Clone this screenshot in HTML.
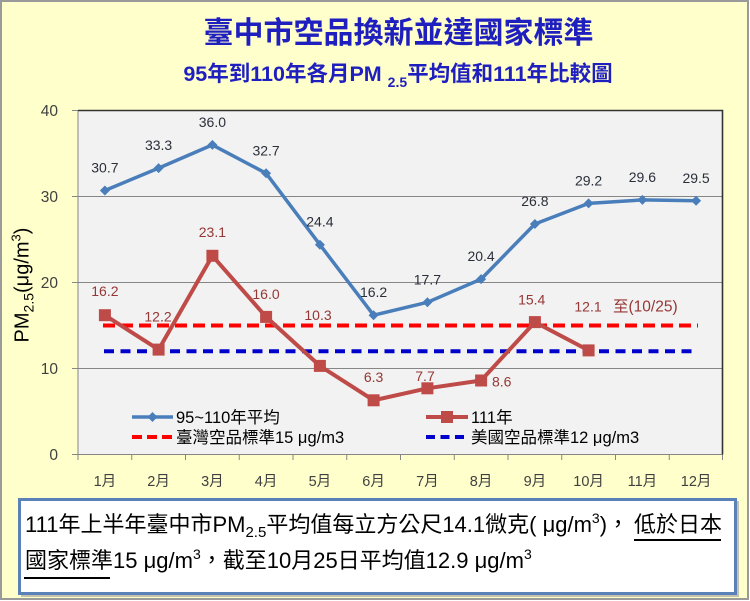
<!DOCTYPE html>
<html><head><meta charset="utf-8"><style>
html,body{margin:0;padding:0;background:#fff;}
svg{display:block;}
text{font-family:"Liberation Sans","Noto Sans CJK TC",sans-serif;}
</style></head><body>
<svg width="750" height="601" viewBox="0 0 750 601" xmlns="http://www.w3.org/2000/svg">
<rect x="1" y="1" width="747" height="598" fill="#ffffcc" stroke="#9a9a9a" stroke-width="2"/>
<text x="398.5" y="43" text-anchor="middle" font-size="30" font-weight="bold" fill="#1f1fc0">臺中市空品換新並達國家標準</text>
<text x="398" y="81" text-anchor="middle" font-size="21.5" font-weight="bold" fill="#1f1fc0">95年到110年各月PM <tspan font-size="14" dy="6">2.5</tspan><tspan dy="-6">平均值和111年比較圖</tspan></text>

<rect x="78" y="110.5" width="644.5" height="344" fill="#f2f2f2"/>
<g stroke="#868686" stroke-width="1">
<line x1="78" y1="196.5" x2="722.5" y2="196.5"/>
<line x1="78" y1="282.5" x2="722.5" y2="282.5"/>
<line x1="78" y1="368.5" x2="722.5" y2="368.5"/>
<line x1="72" y1="110.5" x2="78" y2="110.5"/>
<line x1="72" y1="196.5" x2="78" y2="196.5"/>
<line x1="72" y1="282.5" x2="78" y2="282.5"/>
<line x1="72" y1="368.5" x2="78" y2="368.5"/>
<line x1="72" y1="454.5" x2="78" y2="454.5"/>
<line x1="78" y1="454.5" x2="722.5" y2="454.5"/>
<line x1="78" y1="110.5" x2="78" y2="454.5"/>
<line x1="78" y1="454.5" x2="78" y2="460"/>
<line x1="131.75" y1="454.5" x2="131.75" y2="460"/>
<line x1="185.5" y1="454.5" x2="185.5" y2="460"/>
<line x1="239.25" y1="454.5" x2="239.25" y2="460"/>
<line x1="293" y1="454.5" x2="293" y2="460"/>
<line x1="346.75" y1="454.5" x2="346.75" y2="460"/>
<line x1="400.5" y1="454.5" x2="400.5" y2="460"/>
<line x1="454.25" y1="454.5" x2="454.25" y2="460"/>
<line x1="508" y1="454.5" x2="508" y2="460"/>
<line x1="561.75" y1="454.5" x2="561.75" y2="460"/>
<line x1="615.5" y1="454.5" x2="615.5" y2="460"/>
<line x1="669.25" y1="454.5" x2="669.25" y2="460"/>
<line x1="722.5" y1="454.5" x2="722.5" y2="460"/>
</g>
<polyline points="78,110.5 722.5,110.5 722.5,454.5" fill="none" stroke="#333" stroke-width="1.6"/>

<g font-size="15.5" fill="#404040" text-anchor="end">
<text x="58" y="116">40</text>
<text x="58" y="202">30</text>
<text x="58" y="288">20</text>
<text x="58" y="374">10</text>
<text x="58" y="460">0</text>
</g>
<g font-size="14.5" fill="#404040" text-anchor="middle">
<text x="104.9" y="486">1月</text>
<text x="158.6" y="486">2月</text>
<text x="212.4" y="486">3月</text>
<text x="266.1" y="486">4月</text>
<text x="319.9" y="486">5月</text>
<text x="373.6" y="486">6月</text>
<text x="427.4" y="486">7月</text>
<text x="481.1" y="486">8月</text>
<text x="534.9" y="486">9月</text>
<text x="588.6" y="486">10月</text>
<text x="642.4" y="486">11月</text>
<text x="696.1" y="486">12月</text>
</g>

<text transform="translate(28.5,285) rotate(-90)" text-anchor="middle" font-size="20" fill="#000">PM<tspan font-size="14" dy="5">2.5</tspan><tspan dy="-5">(μg/m</tspan><tspan font-size="13" dy="-8">3</tspan><tspan dy="8">)</tspan></text>

<line x1="103" y1="325.5" x2="698" y2="325.5" stroke="#ff0000" stroke-width="4" stroke-dasharray="12 6"/>
<line x1="104" y1="351.3" x2="698" y2="351.3" stroke="#0000cc" stroke-width="4" stroke-dasharray="10 6.5"/>

<polyline fill="none" stroke="#4a7ebb" stroke-width="3.5" stroke-linejoin="round" points="104.9,190.5 158.6,168.1 212.4,144.9 266.1,173.3 319.9,244.7 373.6,315.2 427.4,302.3 481.1,279.1 534.9,224 588.6,203.4 642.4,199.9 696.1,200.8"/>
<g fill="#4a7ebb">
<path d="M104.9 185.5l5 5-5 5-5-5z"/>
<path d="M158.6 163.1l5 5-5 5-5-5z"/>
<path d="M212.4 139.9l5 5-5 5-5-5z"/>
<path d="M266.1 168.3l5 5-5 5-5-5z"/>
<path d="M319.9 239.7l5 5-5 5-5-5z"/>
<path d="M373.6 310.2l5 5-5 5-5-5z"/>
<path d="M427.4 297.3l5 5-5 5-5-5z"/>
<path d="M481.1 274.1l5 5-5 5-5-5z"/>
<path d="M534.9 219l5 5-5 5-5-5z"/>
<path d="M588.6 198.4l5 5-5 5-5-5z"/>
<path d="M642.4 194.9l5 5-5 5-5-5z"/>
<path d="M696.1 195.8l5 5-5 5-5-5z"/>
</g>

<polyline fill="none" stroke="#be4b48" stroke-width="4" stroke-linejoin="round" points="104.9,315.2 158.6,349.6 212.4,255.8 266.1,316.9 319.9,365.9 373.6,400.3 427.4,388.3 481.1,380.5 534.9,322.1 588.6,350.4"/>
<g fill="#be4b48">
<rect x="98.9" y="309.2" width="12" height="12"/>
<rect x="152.6" y="343.6" width="12" height="12"/>
<rect x="206.4" y="249.8" width="12" height="12"/>
<rect x="260.1" y="310.9" width="12" height="12"/>
<rect x="313.9" y="359.9" width="12" height="12"/>
<rect x="367.6" y="394.3" width="12" height="12"/>
<rect x="421.4" y="382.3" width="12" height="12"/>
<rect x="475.1" y="374.5" width="12" height="12"/>
<rect x="528.9" y="316.1" width="12" height="12"/>
<rect x="582.6" y="344.4" width="12" height="12"/>
</g>

<g font-size="14" fill="#2b2f3a" text-anchor="middle">
<text x="104.9" y="172.5">30.7</text>
<text x="158.6" y="150">33.3</text>
<text x="212.4" y="127">36.0</text>
<text x="266.1" y="155.3">32.7</text>
<text x="319.9" y="226.7">24.4</text>
<text x="373.6" y="297.2">16.2</text>
<text x="427.4" y="284.3">17.7</text>
<text x="481.1" y="261">20.4</text>
<text x="534.9" y="206">26.8</text>
<text x="588.6" y="185.4">29.2</text>
<text x="642.4" y="182">29.6</text>
<text x="696.1" y="182.8">29.5</text>
</g>
<g font-size="14" fill="#953735" text-anchor="middle">
<text x="104.9" y="296">16.2</text>
<text x="158" y="321.7">12.2</text>
<text x="212.4" y="237">23.1</text>
<text x="266" y="299">16.0</text>
<text x="318" y="320">10.3</text>
<text x="373.6" y="382">6.3</text>
<text x="425" y="381">7.7</text>
<text x="492" y="386.7" text-anchor="start">8.6</text>
<text x="531.7" y="304.3">15.4</text>
<text x="588" y="311.7">12.1</text>
<text x="613" y="311.7" text-anchor="start" font-size="15.5">至(10/25)</text>
</g>

<line x1="132" y1="417" x2="173" y2="417" stroke="#4a7ebb" stroke-width="3.5"/>
<path d="M152.5 412l5 5-5 5-5-5z" fill="#4a7ebb"/>
<line x1="426" y1="417" x2="468" y2="417" stroke="#be4b48" stroke-width="4"/>
<rect x="441" y="411" width="12" height="12" fill="#be4b48"/>
<line x1="132" y1="437" x2="174" y2="437" stroke="#ff0000" stroke-width="4" stroke-dasharray="10 5"/>
<line x1="426" y1="437" x2="468" y2="437" stroke="#0000cc" stroke-width="4" stroke-dasharray="9 5.5"/>
<g font-size="16.5" fill="#000">
<text x="176" y="423">95~110年平均</text>
<text x="471" y="423">111年</text>
<text x="176" y="443">臺灣空品標準15 μg/m3</text>
<text x="471" y="443">美國空品標準12 μg/m3</text>
</g>

<rect x="21" y="501" width="718" height="96" fill="#9a9a9a" opacity="0.6"/>
<rect x="19.5" y="499.5" width="716" height="94" fill="#ffffff" stroke="#5a82b8" stroke-width="3"/>
<text x="25" y="532" font-size="22" fill="#000">111年上半年臺中市PM<tspan font-size="15" dy="5">2.5</tspan><tspan dy="-5">平均值每立方公尺14.1微克( μg/m</tspan><tspan font-size="14" dy="-9">3</tspan><tspan dy="9">)，</tspan></text>
<text x="634" y="532" font-size="22" fill="#000">低於日本</text>
<line x1="634" y1="540" x2="721" y2="540" stroke="#000" stroke-width="2"/>
<text x="25" y="568" font-size="22" fill="#000">國家標準15 μg/m<tspan font-size="14" dy="-9">3</tspan><tspan dy="9">，截至10月25日平均值12.9 μg/m</tspan><tspan font-size="14" dy="-9">3</tspan></text>
<line x1="24" y1="578" x2="110" y2="578" stroke="#000" stroke-width="2"/>
</svg>
</body></html>
